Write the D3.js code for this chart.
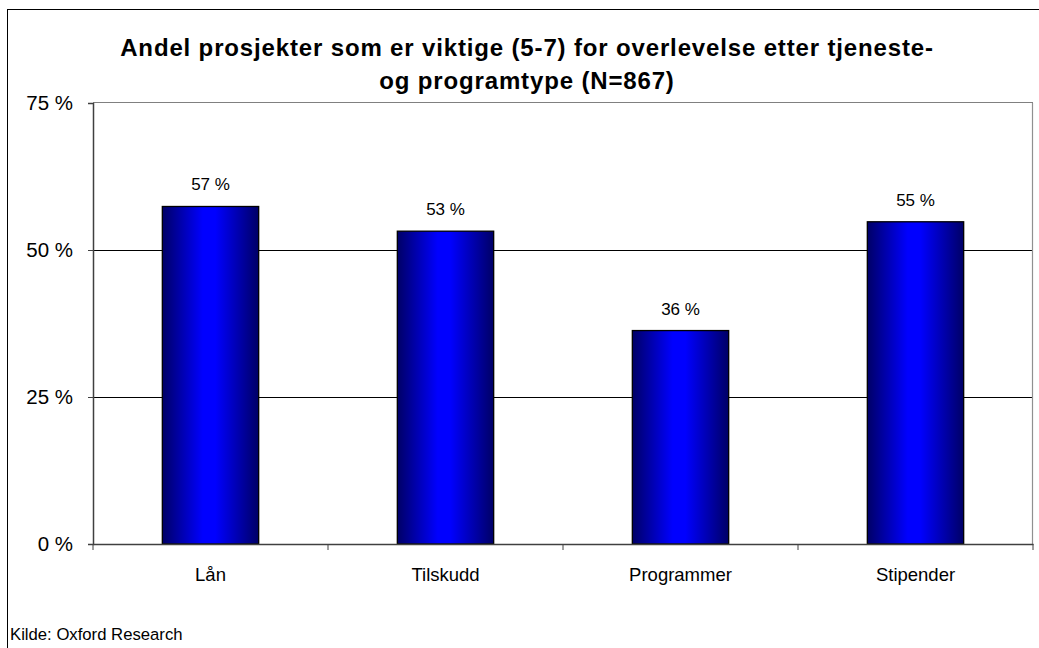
<!DOCTYPE html>
<html><head><meta charset="utf-8">
<script src="https://cdn.jsdelivr.net/npm/d3@7"></script>
<style>html,body{margin:0;padding:0;background:#fff;}svg{display:block;font-family:"Liberation Sans",Arial,sans-serif;}</style>
</head><body><div id="chart"></div>
<script>
const categories = ["Lån", "Tilskudd", "Programmer", "Stipender"];
const values = [57.4, 53.2, 36.3, 54.8];
const valueLabels = ["57 %", "53 %", "36 %", "55 %"];
const yTicks = [0, 25, 50, 75];
const titleLines = ["Andel prosjekter som er viktige (5-7) for overlevelse etter tjeneste-", "og programtype (N=867)"];
const source = "Kilde: Oxford Research";

const W = 1039, H = 648;
const svg = d3.select("#chart").append("svg").attr("width", W).attr("height", H);

const defs = svg.append("defs");
const grad = defs.append("linearGradient").attr("id", "barGrad").attr("x1", "0%").attr("x2", "100%").attr("y1", "0%").attr("y2", "0%");
[[0, "#000066"], [0.42, "#0000ff"], [0.55, "#0000ff"], [1, "#000066"]].forEach(([o, c]) =>
  grad.append("stop").attr("offset", o).attr("stop-color", c));

// outer border (only left/top visible)
svg.append("rect").attr("x", 7.5).attr("y", 9.5).attr("width", W + 10).attr("height", H + 10)
  .attr("fill", "none").attr("stroke", "#000").attr("stroke-width", 1);

const m = {left: 93, top: 103, right: 1033, bottom: 544};
const x = d3.scaleBand().domain(categories).range([m.left, m.right]).paddingInner(0).paddingOuter(0);
const y = d3.scaleLinear().domain([0, 75]).range([m.bottom, m.top]);

// gridlines
svg.append("g").selectAll("line").data(yTicks.filter(t => t > 0 && t < 75)).join("line")
  .attr("x1", m.left).attr("x2", m.right)
  .attr("y1", d => Math.round(y(d)) + 0.5).attr("y2", d => Math.round(y(d)) + 0.5)
  .attr("stroke", "#000").attr("stroke-width", 1);

// plot border top & right (gray)
svg.append("line").attr("x1", m.left).attr("x2", m.right).attr("y1", y(75) - 0.5).attr("y2", y(75) - 0.5)
  .attr("stroke", "#808080").attr("stroke-width", 1.2);
svg.append("line").attr("x1", m.right - 0.5).attr("x2", m.right - 0.5).attr("y1", y(75)).attr("y2", m.bottom)
  .attr("stroke", "#909090").attr("stroke-width", 1.2);

// bars
const bw = x.bandwidth() * 0.41;
svg.append("g").selectAll("rect").data(categories).join("rect")
  .attr("x", (d) => x(d) + x.bandwidth() / 2 - bw / 2)
  .attr("y", (d, i) => y(values[i]))
  .attr("width", bw)
  .attr("height", (d, i) => y(0) - y(values[i]))
  .attr("fill", "url(#barGrad)").attr("stroke", "#000").attr("stroke-width", 1.3);

// value labels
svg.append("g").selectAll("text").data(categories).join("text")
  .attr("x", d => x(d) + x.bandwidth() / 2)
  .attr("y", (d, i) => y(values[i]) - 16)
  .attr("text-anchor", "middle").attr("font-size", 17).attr("fill", "#000")
  .text((d, i) => valueLabels[i]);

// y axis
const yAxis = d3.axisLeft(y).tickValues(yTicks).tickSize(5).tickPadding(15).tickFormat(d => d + " %");
const gy = svg.append("g").attr("transform", `translate(${m.left},0)`).call(yAxis);
gy.select(".domain").attr("stroke", "#404040").attr("stroke-width", 1.5);
gy.selectAll(".tick line").attr("stroke", "#404040");
gy.selectAll("text").attr("font-size", 20.5).attr("font-family", "Liberation Sans, Arial, sans-serif").attr("fill", "#000");

// x axis
const xAxis = d3.axisBottom(x).tickSize(0).tickPadding(24);
const gx = svg.append("g").attr("transform", `translate(0,${m.bottom})`).call(xAxis);
gx.select(".domain").attr("stroke", "#404040").attr("stroke-width", 1.5);
gx.selectAll("text").attr("font-size", 18.5).attr("font-family", "Liberation Sans, Arial, sans-serif").attr("fill", "#000");
// category boundary ticks
svg.append("g").selectAll("line").data(d3.range(categories.length + 1)).join("line")
  .attr("x1", i => m.left + i * x.step()).attr("x2", i => m.left + i * x.step())
  .attr("y1", m.bottom).attr("y2", m.bottom + 6)
  .attr("stroke", "#404040").attr("stroke-width", 1);

// title
svg.append("g").selectAll("text").data(titleLines).join("text")
  .attr("x", 527).attr("y", (d, i) => 56 + i * 33)
  .attr("text-anchor", "middle").attr("font-size", 24).attr("letter-spacing", 0.85)
  .attr("font-weight", "bold").attr("fill", "#000")
  .text(d => d);

// source
svg.append("text").attr("x", 10).attr("y", 640).attr("font-size", 16.7).attr("fill", "#000").text(source);
</script></body></html>
